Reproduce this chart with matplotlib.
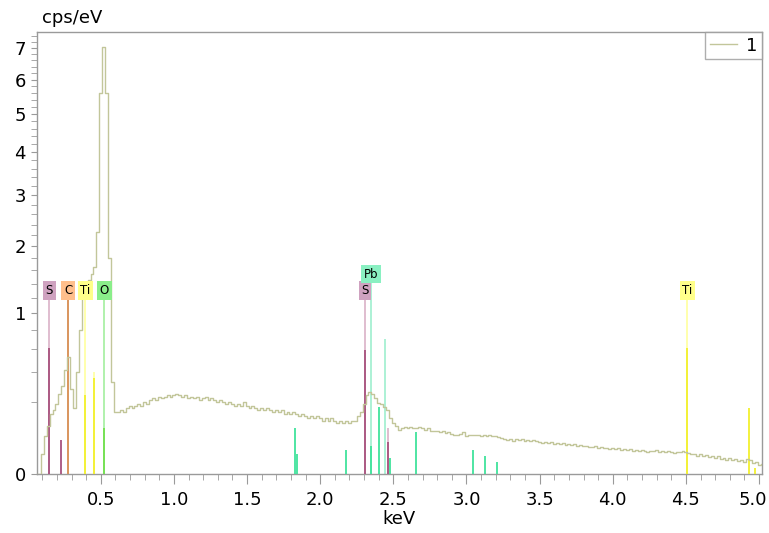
import numpy as np
import matplotlib
matplotlib.use("Agg")
import matplotlib.pyplot as plt
from matplotlib.ticker import MultipleLocator, FixedLocator
import matplotlib.transforms as mtransforms

# ---------------- data ----------------
# spectrum counts (cps/eV), channels of 0.02 keV starting at 0.06 keV
counts = [
    0.0, 0.0,
    0.015, 0.055, 0.09, 0.14, 0.16, 0.19, 0.25, 0.30, 0.42, 0.53,
    0.28, 0.17, 0.40, 0.80, 1.25, 1.40, 1.45, 1.55, 1.65, 2.26,
    5.6, 7.05, 5.6, 1.8, 0.33, 0.15, 0.15, 0.16, 0.15, 0.17,
    0.18, 0.17, 0.18, 0.19, 0.18, 0.20, 0.19, 0.21, 0.22, 0.21,
    0.23, 0.22, 0.23, 0.24, 0.23, 0.24, 0.25, 0.24, 0.23, 0.24,
    0.22, 0.23, 0.22, 0.23, 0.21, 0.22, 0.23, 0.21, 0.22, 0.21,
    0.20, 0.21, 0.20, 0.19, 0.20, 0.19, 0.18, 0.19, 0.18, 0.20,
    0.18, 0.17, 0.18, 0.17, 0.16, 0.17, 0.16, 0.17, 0.16, 0.15,
    0.16, 0.15, 0.16, 0.14, 0.15, 0.14, 0.15, 0.14, 0.13, 0.14,
    0.13, 0.12, 0.13, 0.12, 0.13, 0.12, 0.11, 0.12, 0.11, 0.12,
    0.11, 0.10, 0.11, 0.10, 0.11, 0.10, 0.11, 0.11, 0.13, 0.15,
    0.19, 0.24, 0.26, 0.25, 0.22, 0.195, 0.19, 0.175, 0.16, 0.12,
    0.10, 0.09, 0.075, 0.08, 0.085, 0.08, 0.085, 0.08, 0.08, 0.085,
    0.08, 0.075, 0.08, 0.072, 0.07, 0.072, 0.068, 0.07, 0.065, 0.068,
    0.062, 0.06, 0.059, 0.061, 0.067, 0.055, 0.058, 0.060, 0.058, 0.060,
    0.057, 0.059, 0.056, 0.058, 0.055, 0.057, 0.054, 0.050, 0.046, 0.044,
    0.047, 0.043, 0.046, 0.044, 0.046, 0.043, 0.045, 0.042, 0.044, 0.041,
    0.039, 0.038, 0.040, 0.037, 0.039, 0.035, 0.036, 0.034, 0.036, 0.033,
    0.035, 0.032, 0.034, 0.031, 0.033, 0.030, 0.031, 0.029, 0.028, 0.030,
    0.027, 0.028, 0.026, 0.027, 0.025, 0.026, 0.024, 0.026, 0.023, 0.025,
    0.022, 0.024, 0.021, 0.023, 0.020, 0.022, 0.021, 0.019, 0.021, 0.020,
    0.022, 0.019, 0.020, 0.018, 0.020, 0.019, 0.017, 0.019, 0.018, 0.020,
    0.019, 0.017, 0.015, 0.016, 0.013, 0.015, 0.012, 0.014, 0.011, 0.012,
    0.010, 0.012, 0.009, 0.010, 0.008, 0.010, 0.008, 0.009, 0.007, 0.008,
    0.006, 0.009, 0.008, 0.005, 0.006, 0.003, 0.004,
]
channel_start = 0.06
channel_width = 0.02
energy = channel_start + channel_width * np.arange(len(counts))

# element marker lines (keV, height in cps/eV)
line_energy = [0.149, 0.225, 0.277, 0.395, 0.452, 0.525, 1.825, 1.839, 2.174,
               2.307, 2.345, 2.404, 2.464, 2.480, 2.656, 3.047, 3.128, 3.210,
               4.510, 4.932, 4.970]
line_height = [0.61, 0.045, 1.21, 0.24, 0.355, 0.08, 0.08, 0.015, 0.022,
               0.59, 0.03, 0.175, 0.04, 0.0095, 0.069, 0.022, 0.013, 0.0056,
               0.61, 0.167, 0.0014]
line_element = ["S", "S", "C", "Ti", "Ti", "O", "Pb", "Pb", "Pb",
                "S", "Pb", "Pb", "S", "Pb", "Pb", "Pb", "Pb", "Pb",
                "Ti", "Ti", "Ti"]

# pale (weak) lines
pale_energy = [0.452, 2.445, 2.464]
pale_height = [0.40, 0.70, 0.08]
pale_element = ["Ti", "Pb", "S"]

# labelled lines
label_text = ["S", "C", "Ti", "O", "S", "Pb", "Ti"]
label_energy = [0.149, 0.277, 0.395, 0.525, 2.307, 2.345, 4.510]
label_level = [1.21, 1.21, 1.21, 1.21, 1.21, 1.44, 1.21]

y_ticks = [0, 1, 2, 3, 4, 5, 6, 7]
x_ticks = [0.5, 1.0, 1.5, 2.0, 2.5, 3.0, 3.5, 4.0, 4.5, 5.0]

# ---------------- style ----------------
dark = {"S": "#A8527E", "C": "#D8925A", "Ti": "#F2F02E", "O": "#72E04E", "Pb": "#40E39C"}
pale = {"S": "#DDB8CC", "C": "#F2C59C", "Ti": "#FFFFA6", "O": "#AAF0A6", "Pb": "#A6F0D2"}
badge = {"S": "#CFA2C0", "C": "#FFBF8C", "Ti": "#FFFF8A", "O": "#8AEE8A", "Pb": "#8AF0C2"}

plt.rcParams["font.family"] = ["DejaVu Sans"]

fig = plt.figure(figsize=(7.69, 5.33), dpi=100)
ax = fig.add_axes([37 / 769, 59 / 533, 725 / 769, 442 / 533])

ax.set_yscale("function",
              functions=(lambda v: np.sqrt(np.clip(v, 0, None)), lambda s: s ** 2))
ax.set_xlim(0.064, 5.02)
ax.set_ylim(0, 7.54)

# connectors to labels
for t, e, lv in zip(label_text, label_energy, label_level):
    ax.vlines(e, 0, lv, color=pale[t], lw=1.3, zorder=2)

for e, h, el in zip(pale_energy, pale_height, pale_element):
    ax.vlines(e, 0, h, color=pale[el], lw=1.3, zorder=2)

for e, h, el in zip(line_energy, line_height, line_element):
    ax.vlines(e, 0, h, color=dark[el], lw=1.3, zorder=3)

ax.plot(energy, counts, drawstyle="steps-mid", color="#C2C69A", lw=1.0,
        label="1", zorder=4)

for t, e, lv in zip(label_text, label_energy, label_level):
    ax.text(e, lv, t, ha="center", va="bottom", fontsize=8.5, zorder=5,
            bbox=dict(boxstyle="square,pad=0.22", fc=badge[t], ec="none"))

# axes styling
for s in ax.spines.values():
    s.set_color("#9A9A9A")
    s.set_linewidth(1.0)

ax.xaxis.set_major_locator(FixedLocator(x_ticks))
ax.xaxis.set_minor_locator(MultipleLocator(0.1))
ax.set_xticklabels([f"{v:.1f}" for v in x_ticks])
ax.yaxis.set_major_locator(FixedLocator(y_ticks))
ax.yaxis.set_minor_locator(FixedLocator(np.arange(0, 7.6, 0.2)))
ax.set_yticklabels([str(v) for v in y_ticks])

ax.tick_params(axis="x", which="major", length=7, color="#9A9A9A", labelsize=13, pad=5)
ax.tick_params(axis="x", which="minor", length=4, color="#9A9A9A")
ax.tick_params(axis="y", which="major", length=4, color="#9A9A9A", labelsize=13, pad=4)
ax.tick_params(axis="y", which="minor", length=4, color="#9A9A9A")

# keep the last x tick label inside the figure
last = ax.get_xticklabels()[-1]
last.set_transform(last.get_transform() +
                   mtransforms.ScaledTranslation(-6 / 100, 0, fig.dpi_scale_trans))

ax.set_xlabel("keV", fontsize=13, labelpad=1)
fig.text(42 / 769, 1 - 18 / 533, "cps/eV", fontsize=13, ha="left", va="center")

leg = ax.legend(loc="upper right", fontsize=13, frameon=True, fancybox=False,
                borderaxespad=0, handlelength=1.5, handletextpad=0.5,
                borderpad=0.25)
leg.get_frame().set_edgecolor("#9A9A9A")
leg.get_frame().set_linewidth(1.0)

fig.savefig("out.png", dpi=100)
